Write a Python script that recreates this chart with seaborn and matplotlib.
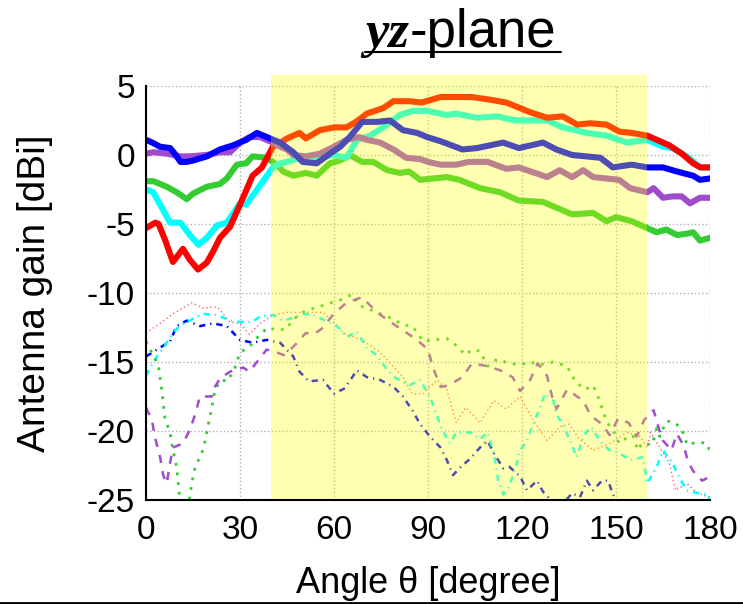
import matplotlib
matplotlib.use('Agg')
import matplotlib.pyplot as plt
import seaborn as sns
from matplotlib.patches import Rectangle
from matplotlib.lines import Line2D

# ---------------- data ----------------
red_x = [0, 3, 4, 6, 8.6, 11.8, 14, 16.6, 19.4, 21.4, 23.6, 26.8, 30, 34, 37, 40.5, 43, 45, 49, 51, 55.5, 60, 64, 67,
         70.5, 75.7, 79, 84, 88, 94, 104, 110, 115, 122.6, 128, 133, 137.6, 141.7, 147, 151, 155, 160, 167, 171,
         174.6, 177, 180]
red_y = [-5.3, -4.9, -5.0, -6.1, -7.75, -6.8, -7.6, -8.3, -7.8, -7.0, -6.0, -5.2, -3.6, -1.5, -0.9, 0.6, 0.9, 1.2, 1.6,
         1.2, 1.8, 2.0, 2.0, 2.4, 3.0, 3.4, 3.9, 3.9, 3.8, 4.2, 4.2, 4.0, 3.8, 3.1, 2.7, 2.8, 2.2, 2.3, 2.2, 1.7, 1.6,
         1.4, 0.7, 0.1, -0.6, -0.9, -0.9]

blue_x = [0, 2, 4.5, 7.7, 9.5, 11, 13, 15, 19.4, 23.6, 27.8, 32, 35.4, 37.5, 39.6, 42.8, 47, 50, 54.5, 58.7, 62, 65,
          69, 73.7, 77.9, 82, 86.5, 89.7, 94, 101, 105.6, 114, 119, 126.7, 131, 136, 145, 149, 155, 160, 165, 169.5,
          174.6, 176.8, 180]
blue_y = [1.1, 0.9, 0.6, 0.5, 0.0, -0.5, -0.5, -0.4, -0.1, 0.4, 0.7, 1.1, 1.6, 1.4, 1.2, 0.9, 0.2, -0.5, -0.6, 0.1,
          0.6, 1.3, 2.4, 2.4, 2.5, 1.8, 1.6, 1.3, 1.0, 0.4, 0.5, 0.9, 0.5, 0.9, 0.4, 0.0, -0.2, -0.9, -0.7, -0.9, -0.9,
          -1.2, -1.5, -1.8, -1.7]

cyan_x = [0, 2.3, 5, 7.7, 11, 14, 16.7, 19.4, 22.7, 25.8, 30, 32, 36.4, 40.5, 43, 45, 49, 55.5, 60, 64, 67.3, 71.5,
          77, 81, 85, 89.7, 96, 99, 105.6, 112, 118, 128, 133, 140.7, 147, 153.5, 160, 165, 168, 172.6, 176.8, 180]
cyan_y = [-2.5, -2.7, -3.8, -4.9, -4.9, -5.8, -6.5, -6.0, -5.1, -4.9, -3.5, -3.6, -2.2, -0.9, -0.6, -0.5, -0.2, -0.2,
          0.0, -0.2, 1.1, 1.4, 2.2, 2.9, 3.2, 3.2, 2.9, 3.0, 2.7, 2.8, 2.5, 2.5, 2.0, 1.6, 1.4, 0.9, 1.1, 0.6, 0.5,
          -0.1, -0.9, -0.9]

green_x = [0, 2.4, 6.6, 9.8, 13, 15, 19.4, 23.6, 25.8, 29, 32, 34, 38.5, 41.7, 43.8, 47, 51, 54.5, 58.7, 62, 65, 69,
           72.5, 77, 81, 84, 87.5, 96, 100, 106.6, 113, 119, 126.7, 136, 142.7, 147, 150, 155, 160, 163, 166, 169.5,
           172.6, 174.6, 176.8, 180]
green_y = [-1.9, -1.9, -2.3, -2.7, -3.2, -2.8, -2.3, -2.1, -1.7, -0.7, -0.6, -0.1, -0.2, -0.7, -1.2, -1.5, -1.3, -1.5,
           -0.6, -0.4, 0.0, -0.5, -0.5, -1.1, -1.3, -1.2, -1.8, -1.6, -1.8, -2.4, -2.7, -3.3, -3.4, -4.3, -4.2, -4.8,
           -4.5, -4.8, -5.3, -5.6, -5.4, -5.8, -5.7, -5.6, -6.2, -6.0]

purple_x = [0, 2.4, 6.6, 11, 14, 19.4, 23.6, 26.8, 30, 33, 36.4, 40.5, 42.8, 45, 47, 51, 55.5, 60, 64, 68, 70.5,
            74.7, 79, 83, 87.5, 90, 94, 99, 103, 109, 115, 119, 128, 132, 136, 139.5, 142.7, 151, 154.5, 160, 162,
            165, 168, 171, 173.6, 176.8, 180]
purple_y = [0.1, 0.2, 0.1, -0.1, -0.1, 0.0, 0.2, 0.2, 0.9, 1.3, 1.3, 0.9, 0.6, 0.4, 0.0, -0.1, 0.1, 0.6, 1.1, 1.3,
            1.1, 0.9, 0.4, -0.2, -0.3, -0.5, -0.7, -0.7, -0.5, -0.5, -1.0, -0.9, -1.6, -1.1, -1.6, -1.1, -1.6, -1.8,
            -2.4, -2.7, -2.4, -3.1, -3.0, -3.0, -3.5, -3.1, -3.1]

red_d_x = [0, 4.5, 8.6, 14.7, 18, 22.7, 26.8, 30, 33, 36.4, 40.5, 45, 49, 56.5, 60.3, 63, 69, 74.7, 78, 82, 85, 88.5,
           90.6, 93, 96, 99, 102, 106.6, 111, 115, 119.4, 123.5, 128, 132, 135, 138, 142.7, 148, 153.5, 157.7, 160,
           161, 164, 167, 169, 172.6, 176, 180]
red_d_y = [-12.9, -12.2, -11.5, -10.7, -11.1, -11.0, -12.1, -12.2, -13.0, -12.2, -11.6, -11.4, -11.4, -11.4, -12.2,
           -12.9, -13.4, -14.3, -15.1, -16.1, -17.3, -17.3, -16.8, -16.3, -17.0, -19.4, -18.3, -19.4, -17.8, -18.4,
           -17.5, -19.2, -20.7, -19.7, -19.5, -20.5, -21.4, -20.9, -20.1, -20.4, -21.2, -20.1, -21.2, -22.3, -24.3,
           -23.8, -24.5, -24.8]

blue_d_x = [0, 3.5, 7.7, 9.8, 13, 17.2, 21.4, 25.8, 30, 34, 38.5, 42.8, 47, 49, 52, 56.5, 60, 63.5, 67.3, 70.5, 74.7,
            79, 82, 85, 87.5, 90.6, 94, 96, 98, 100, 103.5, 106.6, 109, 111, 114, 116, 119.4, 121.6, 124.8, 126.7,
            130, 133, 136, 138.5, 140.7, 142.7, 145.5, 147.5, 149, 152, 160, 170, 180]
blue_d_y = [-14.6, -14.1, -13.5, -12.4, -12.0, -12.4, -12.2, -12.4, -13.4, -13.6, -13.4, -13.6, -14.6, -15.7, -16.4,
            -16.3, -17.3, -16.9, -15.6, -16.1, -16.3, -16.8, -17.5, -18.5, -19.5, -20.4, -21.2, -22.1, -23.2, -22.7,
            -22.0, -21.2, -20.7, -21.6, -22.7, -22.6, -23.3, -24.3, -23.6, -24.4, -25.2, -25.3, -24.5, -24.8, -23.6,
            -24.3, -23.6, -23.6, -24.6, -25.5, -26.5, -27.0, -27.0]

cyan_d_x = [0, 1.3, 3.5, 5.5, 8.3, 11, 14, 18, 22.7, 26.8, 30, 34, 36.4, 40.5, 43.8, 47, 50, 53.5, 58, 61, 64, 67.3,
            70.5, 73.7, 77, 80, 84, 87.5, 90.6, 93, 94.5, 97, 99, 103.5, 106.6, 109, 111, 112.4, 114, 116, 118, 119.4,
            121.6, 123.5, 125.8, 127.3, 130, 131, 133, 134.7, 137.5, 139.5, 142, 145.5, 148, 151, 154.5, 158.6, 160,
            163, 165, 168, 170, 172.6, 176, 179.4, 180]
cyan_d_y = [-16.0, -15.4, -14.6, -14.0, -13.0, -12.3, -12.0, -11.5, -11.6, -12.0, -12.1, -12.1, -11.7, -11.6, -12.0,
            -11.8, -11.5, -11.6, -12.1, -12.4, -13.2, -12.8, -14.0, -14.5, -15.6, -16.2, -16.7, -16.3, -17.5, -19.0,
            -19.9, -20.9, -20.1, -20.1, -20.6, -20.1, -21.6, -23.6, -24.6, -24.0, -22.6, -21.4, -20.7, -19.5, -18.3,
            -17.3, -17.8, -18.8, -19.5, -20.4, -21.9, -20.4, -19.7, -20.9, -21.4, -21.6, -22.1, -21.9, -23.8, -22.6,
            -21.4, -22.3, -23.3, -24.3, -24.5, -24.6, -25.2]

green_d_x = [0, 1.3, 2.8, 4, 5, 6, 7.7, 8.6, 9.8, 10.3, 10.6, 11.5, 13.5, 14.6, 15.7, 17.8, 18.9, 20, 21, 22, 24, 26,
             28.4, 30, 33, 36.4, 39, 41.7, 45, 46, 49, 52, 56.5, 62, 65.7, 68, 71.5, 74.7, 78, 82, 85, 88.5, 91.6, 96,
             99, 102, 104, 106.6, 109, 112, 116, 119.4, 122.6, 125.8, 130, 134.4, 136, 137, 140, 142.7, 144.4, 145.5,
             146.5, 148, 149.7, 151, 154.5, 155.5, 157, 158.2, 161.5, 163, 164, 166, 168, 170.4, 172, 172.6, 176, 179,
             180]
green_d_y = [-13.5, -14.1, -14.7, -15.3, -17.0, -19.0, -20.2, -21.4, -22.6, -23.8, -24.5, -25.5, -25.5, -23.8, -22.6,
             -21.6, -20.7, -19.4, -18.3, -17.0, -16.3, -16.4, -15.4, -14.3, -13.9, -13.0, -12.5, -12.7, -12.6, -12.2,
             -11.5, -11.2, -10.9, -10.5, -10.1, -10.9, -11.2, -11.5, -11.8, -12.3, -12.4, -13.5, -13.4, -13.3, -13.8,
             -14.5, -14.1, -14.2, -15.3, -14.8, -15.1, -15.2, -15.0, -15.2, -15.0, -15.3, -16.0, -16.4, -17.0, -16.7,
             -17.6, -18.3, -19.0, -19.7, -20.2, -20.9, -20.3, -20.4, -21.4, -20.9, -21.0, -19.8, -20.4, -19.3, -19.3,
             -19.7, -20.4, -21.0, -20.8, -20.9, -21.5]

purple_d_x = [0, 1.9, 2.8, 4.5, 5.5, 6.6, 7.7, 8.6, 11.8, 14, 15.7, 17.2, 21, 22, 23.6, 26.8, 31, 33, 35.4, 38.5, 41.7,
              44, 47, 51, 53.5, 56, 60, 64, 69, 73.7, 78, 82, 86.5, 90, 91.6, 94, 96.5, 101, 104, 109, 113, 117, 119.4,
              122.6, 125, 128, 129.6, 131, 134.4, 139.5, 142, 145.5, 148, 150.7, 154, 156.6, 159, 162, 163.5, 165,
              167.7, 169.4, 171.5, 173, 174.6, 177.5, 180]
purple_d_y = [-18.3, -19.2, -20.4, -21.9, -23.2, -23.8, -22.3, -21.2, -20.9, -19.9, -18.8, -17.5, -17.5, -16.8, -16.2,
              -15.7, -15.4, -15.7, -15.0, -14.1, -14.3, -14.5, -13.9, -12.9, -13.0, -12.6, -11.5, -10.7, -10.3, -11.4,
              -12.1, -12.7, -13.4, -14.1, -15.4, -16.8, -16.7, -16.1, -15.1, -15.3, -15.6, -16.1, -17.1, -16.3, -15.1,
              -16.0, -17.5, -18.4, -17.0, -17.8, -18.9, -19.5, -20.3, -19.1, -19.4, -20.4, -19.2, -18.5, -19.7, -20.7,
              -21.4, -20.2, -21.0, -22.2, -22.9, -23.6, -23.3]

x_ticks = [0, 30, 60, 90, 120, 150, 180]
y_ticks = [-25, -20, -15, -10, -5, 0, 5]
band = (40, 160)

# ---------------- style ----------------
sns.set_style('white')
plt.rcParams['font.family'] = ['Liberation Sans', 'DejaVu Sans']
plt.rcParams['axes.unicode_minus'] = False
plt.rcParams['text.color'] = 'black'
plt.rcParams['axes.labelcolor'] = 'black'
plt.rcParams['xtick.color'] = 'black'
plt.rcParams['ytick.color'] = 'black'

W, H = 743, 604
fig = plt.figure(figsize=(W / 100, H / 100), dpi=100)
ax = fig.add_axes([146 / W, 1 - 500 / H, 564 / W, 414 / H])

RED, BLUE, CYAN, GREEN, PURPLE = '#ff0000', '#0000ff', '#00ffff', '#33cc33', '#a04bcd'

dashed = [
    (red_d_x, red_d_y, '#ff6060', 1.0, (0, (1, 2))),
    (blue_d_x, blue_d_y, BLUE, 1.8, (0, (2.5, 2, 0.5, 2))),
    (cyan_d_x, cyan_d_y, CYAN, 1.8, (0, (2.5, 2, 0.5, 2))),
    (green_d_x, green_d_y, GREEN, 2.0, (0, (1, 2.5))),
    (purple_d_x, purple_d_y, PURPLE, 1.8, (0, (3.3, 3.3))),
]
for x, y, c, lw, ls in dashed:
    sns.lineplot(x=x, y=y, ax=ax, color=c, lw=lw, linestyle=ls, sort=False,
                 estimator=None, legend=False, zorder=3)

solid = [
    (green_x, green_y, GREEN),
    (cyan_x, cyan_y, CYAN),
    (red_x, red_y, RED),
    (purple_x, purple_y, PURPLE),
    (blue_x, blue_y, BLUE),
]
for x, y, c in solid:
    sns.lineplot(x=x, y=y, ax=ax, color=c, lw=4.4, sort=False,
                 estimator=None, legend=False, zorder=4)

# translucent yellow band over the lines
ax.add_patch(Rectangle((band[0], -25), band[1] - band[0], 30.8, facecolor='yellow',
                       alpha=0.3, lw=0, zorder=10, clip_on=False))

ax.set_xlim(0, 180)
ax.set_ylim(-25, 5)
ax.set_xticks(x_ticks)
ax.set_yticks(y_ticks)
ax.set_xticklabels([str(v) for v in x_ticks])
ax.set_yticklabels([str(v) for v in y_ticks])
ax.tick_params(axis='both', labelsize=24, direction='in', length=4, width=1,
               colors='black', labelcolor='black')
ax.tick_params(axis='x', pad=11)
ax.tick_params(axis='y', pad=8)
ax.grid(True, color='#b0b0b0', linestyle=':', lw=1.0)
ax.set_axisbelow(True)
for s in ['top', 'right']:
    ax.spines[s].set_visible(False)
for s in ['left', 'bottom']:
    ax.spines[s].set_color('black')
    ax.spines[s].set_linewidth(1.5)
    ax.spines[s].set_zorder(11)

ax.set_xlabel('Angle θ [degree]', fontsize=26, color='black')
ax.set_ylabel('Antenna gain [dBi]', fontsize=28, color='black')
ax.xaxis.set_label_coords(0.5, -0.16)
ax.yaxis.set_label_coords(-0.165, 0.5)

# title: italic serif "yz" + sans "-plane", underlined
fig.text(365 / W, 1 - 47 / H, 'yz', fontsize=38, family='Liberation Serif', style='italic',
         weight='bold', ha='left', va='baseline', color='black')
fig.text(410 / W, 1 - 47 / H, '-plane', fontsize=38, ha='left', va='baseline', color='black')
fig.add_artist(Line2D([365 / W, 561 / W], [1 - 52 / H, 1 - 52 / H], color='black', lw=1.5))

# black rule at the bottom edge
fig.add_artist(Line2D([0, 1], [1.5 / H, 1.5 / H], color='black', lw=2))

fig.savefig('out.png', dpi=100)
